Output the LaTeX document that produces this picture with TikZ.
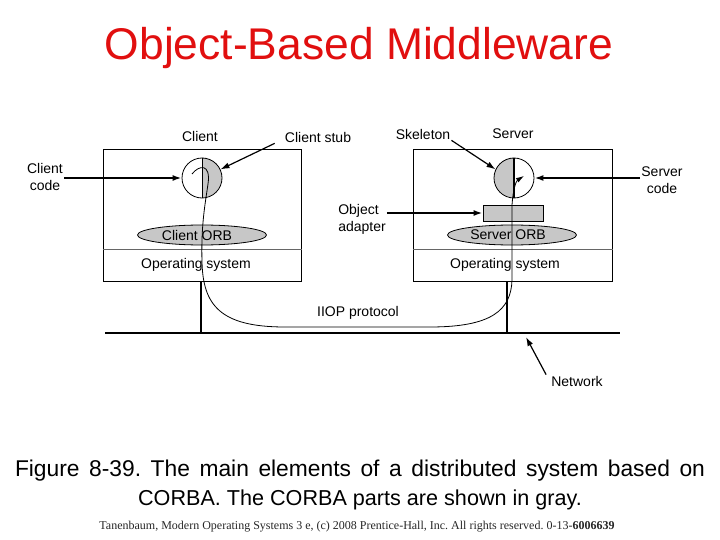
\documentclass[tikz,border=0pt]{standalone}
\usepackage{fontspec}
\setmainfont{Liberation Sans}
\newfontfamily\footfont{Liberation Serif}
\usepackage{xcolor}
\usetikzlibrary{shapes.geometric, arrows.meta, positioning, backgrounds}
\definecolor{titlered}{RGB}{225,15,15}
\frenchspacing

\begin{document}
\begin{tikzpicture}[x=1pt, y=-1pt, font=\fontsize{14}{17}\selectfont,
    corba/.style={fill=black!22},
    ptr/.style={-{Latex[length=9pt,width=6pt]}, line width=2.2pt},
    thinptr/.style={-{Latex[length=9pt,width=6pt]}, line width=1.2pt},
    lbl/.style={inner sep=1pt, align=center}]
    \useasboundingbox (0,0) rectangle (720,540);

    % title and caption
    \node[anchor=base, text=titlered, font=\fontsize{44.4}{50}\selectfont] (title) at (359,60) {Object-Based Middleware};
    \node[anchor=base, font=\fontsize{22.8}{29}\selectfont] (cap1) at (360,476) {\makebox[690pt][s]{Figure 8-39. The main elements of a distributed system based on}};
    \node[anchor=base, font=\fontsize{21.6}{29}\selectfont] (cap2) at (360,505) {CORBA. The CORBA parts are shown in gray.};
    \node[text=black!85, font=\footfont\fontsize{12}{14}\selectfont] (foot) at (357,527) {Tanenbaum, Modern Operating Systems 3 e, (c) 2008 Prentice-Hall, Inc. All rights reserved. 0-13-\textbf{6006639}};

    % client machine
    \node[draw, line width=0.8pt, anchor=north west, minimum width=198pt, minimum height=132pt] (cbox) at (103,149) {};
    \draw[line width=0.5pt, black!60] (cbox.west |- 0,249) -- (cbox.east |- 0,249);
    \node[draw, circle, line width=0.8pt, minimum size=40pt, inner sep=0pt] (cstub) at (202,178) {};
    \draw[line width=0.8pt] (cstub.north) -- (cstub.south);
    \node[draw, ellipse, corba, line width=0.8pt, minimum width=129pt, minimum height=20pt] (corb) at (202,235) {};
    \node[lbl] (corbtxt) at (197,235) {Client ORB};
    \node[lbl] (cos) at (196,265) {Operating system};

    % server machine
    \node[draw, line width=0.8pt, anchor=north west, minimum width=199pt, minimum height=132pt] (sbox) at (413,149) {};
    \draw[line width=0.5pt, black!60] (sbox.west |- 0,249) -- (sbox.east |- 0,249);
    \node[draw, circle, line width=0.8pt, minimum size=40pt, inner sep=0pt] (skel) at (514,178) {};
    \draw[line width=1.5pt] (skel.north) -- (skel.south);
    \node[draw, rectangle, corba, line width=0.8pt, minimum width=60pt, minimum height=16pt] (oa) at (513,213) {};
    \node[draw, ellipse, corba, line width=0.8pt, minimum width=129pt, minimum height=20pt] (sorb) at (512,235) {};
    \node[lbl] (sorbtxt) at (508,235) {Server ORB};
    \node[lbl] (sos) at (505,265) {Operating system};

    \begin{scope}[on background layer]
        \fill[corba] (cstub.north) arc[start angle=90, end angle=-90, radius=20pt] -- cycle;
        \fill[corba] (skel.north) arc[start angle=90, end angle=270, radius=20pt] -- cycle;
    \end{scope}

    % network
    \coordinate (netL) at (105,333);
    \coordinate (netR) at (620,333);
    \draw[line width=2.6pt] (netL) -- (netR);
    \draw[line width=1.8pt] (cbox.south -| 201,0) -- (201,333);
    \draw[line width=1.8pt] (sbox.south -| 507,0) -- (507,333);

    % IIOP path from client stub to skeleton
    \coordinate (hookstart) at (192,174);
    \coordinate (hookend) at (524,176);
    \draw[-{Latex[length=8pt,width=5pt]}, line width=0.8pt] (hookstart) .. controls (199,165) and (211,163) .. (208,184)
        .. controls (205,205) and (201,225) .. (202,262)
        .. controls (203,305) and (220,327) .. (285,327) -- (430,327)
        .. controls (492,327) and (511,310) .. (512,280) -- (512,205)
        .. controls (513,190) and (516,181) .. (hookend);

    % labels
    \node[lbl] (clbl) at (200,136) {Client};
    \node[lbl] (stublbl) at (318,137) {Client stub};
    \node[lbl] (skellbl) at (423,134) {Skeleton};
    \node[lbl] (slbl) at (513,134) {Server};
    \node[lbl] (ccode) at (45,177) {Client\\code};
    \node[lbl] (scode) at (662,180) {Server\\code};
    \node[lbl, align=left] (oalbl) at (362,219) {Object\\adapter};
    \node[lbl] (iiop) at (358,313) {IIOP protocol};
    \node[lbl] (netlbl) at (577,381) {Network};
    \coordinate (nettap) at (526,337);

    % pointers
    \draw[ptr] (ccode.east |- cstub.west) -- (cstub.west);
    \draw[thinptr] ([xshift=-9pt]stublbl.south west) -- (cstub.25);
    \draw[thinptr] (skellbl.south east) -- (skel.155);
    \draw[ptr] (scode.west |- skel.east) -- (skel.east);
    \draw[ptr] (oalbl.east |- oa.west) -- (oa.west);
    \draw[thinptr] ([xshift=-4pt]netlbl.north west) -- (nettap);
\end{tikzpicture}
\end{document}
